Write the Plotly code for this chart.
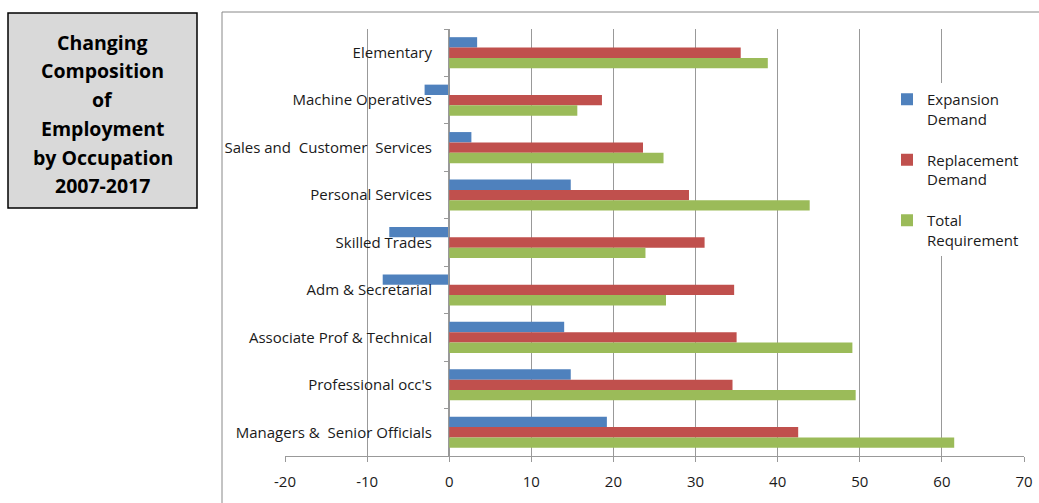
import plotly.graph_objects as go

categories = ["Elementary", "Machine Operatives", "Sales and  Customer  Services",
              "Personal Services", "Skilled Trades", "Adm & Secretarial",
              "Associate Prof & Technical", "Professional occ's",
              "Managers &  Senior Officials"]
expansion = [3.4, -3.0, 2.7, 14.8, -7.3, -8.1, 14.0, 14.8, 19.2]
replacement = [35.5, 18.6, 23.6, 29.2, 31.1, 34.7, 35.0, 34.5, 42.5]
total = [38.8, 15.6, 26.1, 43.9, 23.9, 26.4, 49.1, 49.5, 61.5]
series_names = ["Expansion<br>Demand", "Replacement<br>Demand", "Total<br>Requirement"]
colors = ["#4f81bd", "#c0504d", "#9bbb59"]
x_ticks = [-20, -10, 0, 10, 20, 30, 40, 50, 60, 70]
x_tick_text = ["-20", "-10", "0", "10", "20", "30", "40", "50", "60", "70"]
title_lines = ["Changing", "Composition", "of", "Employment", "by Occupation", "2007-2017"]

FONT = "Open Sans"
FS = 15

fig = go.Figure()
for i, (name, vals, col) in enumerate(zip(series_names, [expansion, replacement, total], colors)):
    fig.add_trace(go.Bar(y=categories, x=vals, name=name, orientation="h",
                         legendgroup="g%d" % i,
                         marker=dict(color=col, line=dict(width=0))))

W, H = 1039, 503
L, R, T, B = 285, 15, 29, 47
pw, ph = W - L - R, H - T - B
def px_x(p):
    return (p - L) / pw
def px_y(p):
    return (H - B - p) / ph

fig.update_layout(
    width=W, height=H,
    margin=dict(l=L, r=R, t=T, b=B, autoexpand=False),
    paper_bgcolor="white", plot_bgcolor="white",
    barmode="group", bargap=0.345, bargroupgap=0,
    font=dict(family=FONT, size=FS, color="#1a1a1a"),
    xaxis=dict(range=[-20, 70], tickvals=x_ticks, ticktext=x_tick_text,
               showgrid=True, gridcolor="#999",
               gridwidth=1, zeroline=False, showline=True, linecolor="#999",
               ticks="outside", ticklen=5, tickcolor="#999",
               ticklabelstandoff=7,
               tickfont=dict(family=FONT, size=FS, color="#1a1a1a")),
    yaxis=dict(autorange="reversed", anchor="free", position=px_x(448),
               showline=True, linecolor="#999", linewidth=1, showgrid=False,
               ticks="outside", tickson="boundaries", ticklen=4, tickcolor="#999",
               ticklabelstandoff=13,
               tickfont=dict(family=FONT, size=FS, color="#1a1a1a")),
    legend=dict(x=px_x(887), y=px_y(83), xanchor="left", yanchor="top",
                bgcolor="white", font=dict(family=FONT, size=FS, color="#1a1a1a"),
                tracegroupgap=18.5, itemwidth=30, valign="top"),
    showlegend=True,
)

# outer chart border
fig.add_shape(type="rect", xref="paper", yref="paper",
              x0=px_x(222), x1=px_x(1045), y0=px_y(510), y1=px_y(12),
              line=dict(color="#888", width=1), fillcolor="rgba(0,0,0,0)", layer="below")
# title box
fig.add_shape(type="rect", xref="paper", yref="paper",
              x0=px_x(8), x1=px_x(197), y0=px_y(208), y1=px_y(13),
              line=dict(color="black", width=1.5), fillcolor="#d9d9d9")
for i, line in enumerate(title_lines):
    fig.add_annotation(xref="paper", yref="paper", x=px_x(102.5), y=px_y(42 + 28.8 * i),
                       text="<b>" + line + "</b>", showarrow=False,
                       font=dict(family=FONT, size=19.5, color="black"),
                       align="center", xanchor="center", yanchor="middle")

fig.write_html("out.html")
